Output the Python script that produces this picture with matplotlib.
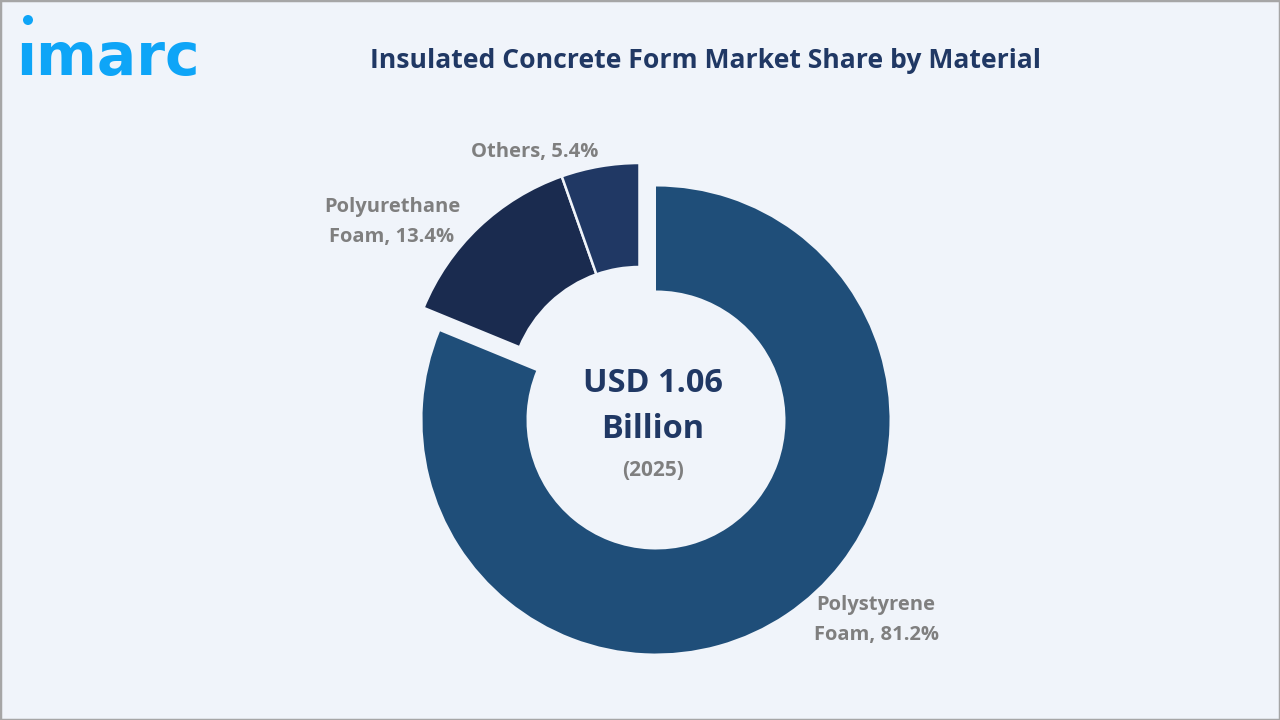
import matplotlib.pyplot as plt
from matplotlib.patches import Circle, Rectangle

materials = ['Polystyrene Foam', 'Polyurethane Foam', 'Others']
shares = [81.2, 13.4, 5.4]
colors = ['#1f4e79', '#1a2b4f', '#203864']
bg = '#f0f4fa'

plt.rcParams['font.family'] = ['Open Sans', 'DejaVu Sans']

fig = plt.figure(figsize=(12.8, 7.2), dpi=100, facecolor=bg)
ax = fig.add_axes([0, 0, 1, 1])

# axes in pixels, y measured from the bottom
wedges, _ = ax.pie(shares, colors=colors, startangle=90, counterclock=False,
                   radius=233.5, center=(656, 300),
                   wedgeprops=dict(width=104, edgecolor='none'))
# the two small slices are pulled out together
for w in wedges[1:]:
    w.set_center((639.5, 323.5))
    w.set_edgecolor(bg)
    w.set_linewidth(1.8)
ax.set_xlim(0, 1280)
ax.set_ylim(0, 720)
ax.set_aspect('equal')
ax.axis('off')

ax.add_patch(Rectangle((0, 0), 1280, 720, fill=False, edgecolor='#a6a6a6', lw=2.5))

# logo
ax.text(16.5, 720 - 75, '\u0131marc', fontsize=42, fontweight='bold', color='#0ea5f7',
        family='DejaVu Sans', ha='left', va='baseline')
ax.add_patch(Circle((28, 700), 5, color='#0ea5f7', lw=0))

ax.text(705, 720 - 61, 'Insulated Concrete Form Market Share by Material', fontsize=19.1,
        fontweight='bold', color='#203864', ha='center', va='center')

ax.text(652.5, 720 - 384, 'USD 1.06', fontsize=23.4, fontweight='bold', color='#203864',
        ha='center', va='center')
ax.text(652.5, 720 - 430, 'Billion', fontsize=23.4, fontweight='bold', color='#203864',
        ha='center', va='center')
ax.text(653.5, 720 - 470, '(2025)', fontsize=15, fontweight='bold', color='#7f7f7f',
        ha='center', va='center')

label_kw = dict(fontsize=14.5, fontweight='bold', color='#7f7f7f', ha='center', va='center')
ax.text(392, 720 - 222, 'Polyurethane\nFoam, %.1f%%' % shares[1], linespacing=1.62, **label_kw)
ax.text(535, 720 - 152, '%s, %.1f%%' % (materials[2], shares[2]), **label_kw)
ax.text(876, 720 - 620, 'Polystyrene\nFoam, %.1f%%' % shares[0], linespacing=1.62, **label_kw)

fig.savefig('out.png', dpi=100, facecolor=bg)
